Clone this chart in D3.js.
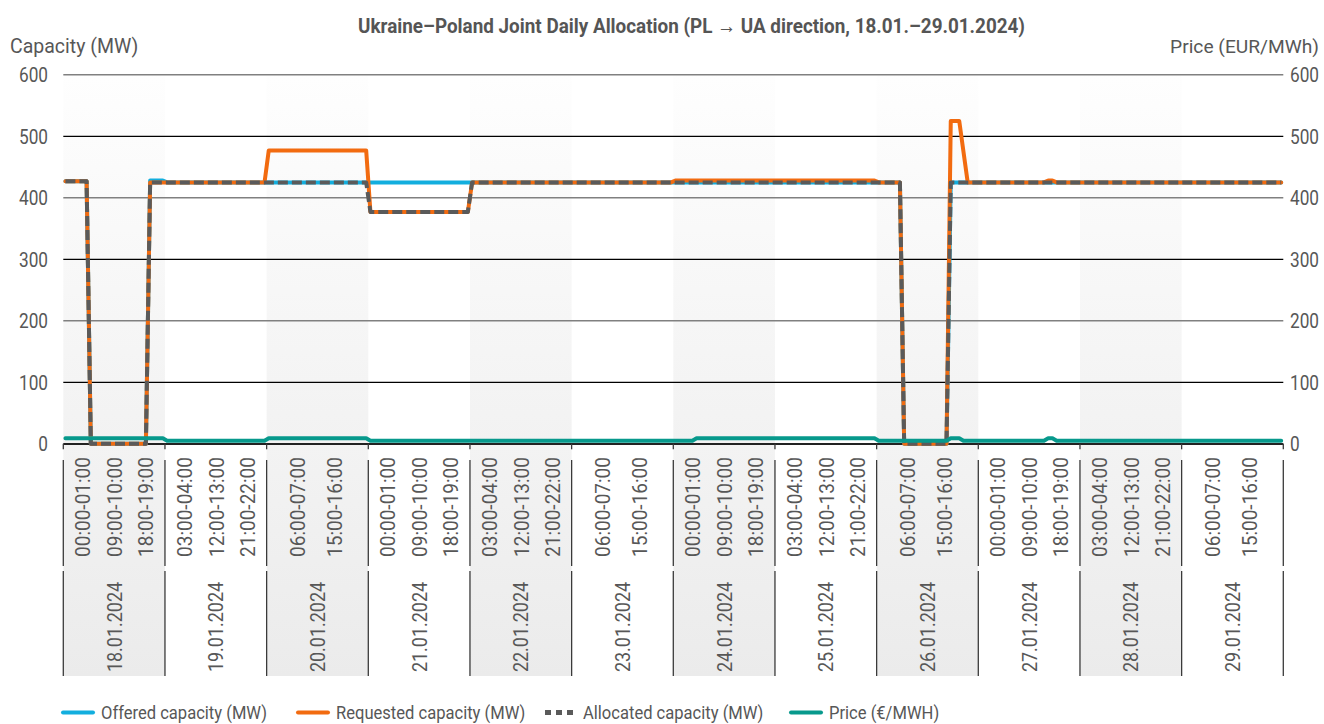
<!DOCTYPE html>
<html>
<head>
<meta charset="utf-8">
<script src="https://cdn.jsdelivr.net/npm/d3@7/dist/d3.min.js"></script>
<style>
  html, body { margin: 0; padding: 0; background: #fff; }
  svg { display: block; font-family: Roboto, "Noto Sans", sans-serif; }
</style>
</head>
<body>
<svg id="chart" width="1324" height="724"></svg>
<script>
// ---------------- DATA ----------------
const days = ["18.01.2024","19.01.2024","20.01.2024","21.01.2024","22.01.2024","23.01.2024",
              "24.01.2024","25.01.2024","26.01.2024","27.01.2024","28.01.2024","29.01.2024"];
const dayHourLabels = [
  ["00:00-01:00","09:00-10:00","18:00-19:00"],
  ["03:00-04:00","12:00-13:00","21:00-22:00"],
  ["06:00-07:00","15:00-16:00"],
  ["00:00-01:00","09:00-10:00","18:00-19:00"],
  ["03:00-04:00","12:00-13:00","21:00-22:00"],
  ["06:00-07:00","15:00-16:00"],
  ["00:00-01:00","09:00-10:00","18:00-19:00"],
  ["03:00-04:00","12:00-13:00","21:00-22:00"],
  ["06:00-07:00","15:00-16:00"],
  ["00:00-01:00","09:00-10:00","18:00-19:00"],
  ["03:00-04:00","12:00-13:00","21:00-22:00"],
  ["06:00-07:00","15:00-16:00"]
];
const hoursPerDay = 24;
const yTicks = [0,100,200,300,400,500,600];

// series as [hour index, value] points where the hourly value changes
const offeredCapacity = [[0,427],[5,427],[6,0],[19,0],[20,428],[23,428],[24,425],[197,425],[198,0],[208,0],[209,425],[287,425]];
const requestedCapacity = [[0,427],[5,427],[6,0],[19,0],[20,425],[47,425],[48,477],[71,477],[72,377],[95,377],[96,425],
  [143,425],[144,428],[191,428],[192,425],[197,425],[198,0],[208,0],[209,525],[211,525],[212,475],[213,425],
  [231,425],[232,428],[233,428],[234,425],[287,425]];
const allocatedCapacity = [[0,427],[5,427],[6,0],[19,0],[20,425],[71,425],[72,377],[95,377],[96,425],[197,425],[198,0],[208,0],[209,425],[287,425]];
const price = [[0,9],[23,9],[24,5],[47,5],[48,9],[71,9],[72,5],[148,5],[149,9],[191,9],[192,5],[208,5],[209,9],[211,9],
  [212,5],[231,5],[232,9],[233,9],[234,5],[287,5]];

const legendItems = ["Offered capacity (MW)","Requested capacity (MW)","Allocated capacity (MW)","Price (€/MWH)"];

// ---------------- LAYOUT / STYLE ----------------
const L = 63.3, R = 1283.3, T = 74.8, B = 443.8;
const colors = { offered: "#12aede", requested: "#f26b10", allocated: "#5a5a5a", price: "#07998c" };
const textColor = "#575757";

const svg = d3.select("#chart");
const defs = svg.append("defs");
const g1 = defs.append("linearGradient").attr("id","plotBand").attr("x1",0).attr("y1",0).attr("x2",0).attr("y2",1);
g1.append("stop").attr("offset","0%").attr("stop-color","#fefefe");
g1.append("stop").attr("offset","100%").attr("stop-color","#f2f2f2");
const g2 = defs.append("linearGradient").attr("id","axisBand").attr("x1",0).attr("y1",0).attr("x2",0).attr("y2",1);
g2.append("stop").attr("offset","0%").attr("stop-color","#f3f3f3");
g2.append("stop").attr("offset","100%").attr("stop-color","#ebebeb");

const totalHours = days.length * hoursPerDay;
const x = d3.scaleLinear().domain([0, totalHours]).range([L, R]);
const xh = h => x(h + 0.5);
const xDay = d3.scaleBand().domain(days).range([L, R]).padding(0);
const y = d3.scaleLinear().domain([0, 600]).range([B, T]);

function condense(sel, k) {
  sel.each(function () {
    const len = this.getComputedTextLength();
    this.setAttribute("textLength", len * k);
    this.setAttribute("lengthAdjust", "spacingAndGlyphs");
  });
}

// plot bands (alternate days)
svg.append("g").selectAll("rect").data(days.filter((d,i)=>i%2===0)).join("rect")
  .attr("x", d => xDay(d)).attr("y", T).attr("width", xDay.bandwidth()).attr("height", B - T)
  .attr("fill", "url(#plotBand)");
// axis label bands
svg.append("g").selectAll("rect").data(days.filter((d,i)=>i%2===0)).join("rect")
  .attr("x", d => xDay(d)).attr("y", B).attr("width", xDay.bandwidth()).attr("height", 676 - B)
  .attr("fill", "url(#axisBand)");

// gridlines
svg.append("g").selectAll("line").data(yTicks.filter(v => v > 0)).join("line")
  .attr("x1", L).attr("x2", R).attr("y1", d => y(d)).attr("y2", d => y(d))
  .attr("stroke", d => (d / 100) % 2 === 0 ? "#808080" : "#000")
  .attr("stroke-width", d => (d / 100) % 2 === 0 ? 1.6 : 1.2);

// left & right tick labels
const leftAxis = svg.append("g").selectAll("text").data(yTicks).join("text")
  .attr("x", 48).attr("y", d => y(d)).attr("dy", "0.355em").attr("text-anchor", "end")
  .attr("font-size", 21).attr("fill", textColor).text(d => d);
condense(leftAxis, 0.82);
const rightAxis = svg.append("g").selectAll("text").data(yTicks).join("text")
  .attr("x", 1290).attr("y", d => y(d)).attr("dy", "0.355em").attr("text-anchor", "start")
  .attr("font-size", 21).attr("fill", textColor).text(d => d);
condense(rightAxis, 0.82);

// axis titles
svg.append("text").attr("x", 10).attr("y", 53).attr("font-size", 19.5).attr("fill", textColor).text("Capacity (MW)");
svg.append("text").attr("x", 1319).attr("y", 53).attr("text-anchor", "end").attr("font-size", 19.2).attr("fill", textColor).text("Price (EUR/MWh)");

// chart title
const title = svg.append("text").attr("x", 691.5).attr("y", 33).attr("text-anchor", "middle")
  .attr("font-size", 21).attr("font-weight", "bold").attr("fill", "#555")
  .text("Ukraine\u2013Poland Joint Daily Allocation (PL \u2192 UA direction, 18.01.\u201329.01.2024)");
title.attr("textLength", 667).attr("lengthAdjust", "spacingAndGlyphs");

// x axis line
svg.append("line").attr("x1", L).attr("x2", R).attr("y1", B + 0.3).attr("y2", B + 0.3)
  .attr("stroke", "#222").attr("stroke-width", 2);

// day separators and ticks
const boundaries = days.map(d => xDay(d)).concat([R]);
const sep = svg.append("g").attr("stroke", "#3a3a3a").attr("stroke-width", 1.3);
boundaries.forEach(bx => {
  sep.append("line").attr("x1", bx).attr("x2", bx).attr("y1", B).attr("y2", B + 5.5);
  sep.append("line").attr("x1", bx).attr("x2", bx).attr("y1", 460).attr("y2", 566);
  sep.append("line").attr("x1", bx).attr("x2", bx).attr("y1", 571).attr("y2", 676);
});

// hour labels per day
days.forEach((d, i) => {
  const labels = dayHourLabels[i];
  const p = d3.scalePoint().domain(labels).range([xDay(d), xDay(d) + xDay.bandwidth()])
    .padding(labels.length === 3 ? 0.61 : 0.87);
  const shift = labels.length === 3 ? 0.3 : -1.5;
  const txt = svg.append("g").selectAll("text").data(labels).join("text")
    .attr("transform", lb => `translate(${p(lb) + shift},507) rotate(-90)`)
    .attr("text-anchor", "middle").attr("dy", "0.355em")
    .attr("font-size", 21).attr("fill", textColor).text(lb => lb);
  condense(txt, 0.905);
});

// date labels
const dl = svg.append("g").selectAll("text").data(days).join("text")
  .attr("transform", d => `translate(${xDay(d) + xDay.bandwidth() / 2},627) rotate(-90)`)
  .attr("text-anchor", "middle").attr("dy", "0.355em")
  .attr("font-size", 21).attr("fill", textColor).text(d => d);
condense(dl, 0.855);

// series
const line = d3.line().x(d => xh(d[0])).y(d => y(d[1]));
svg.append("path").datum(offeredCapacity).attr("d", line).attr("fill", "none")
  .attr("stroke", colors.offered).attr("stroke-width", 4).attr("stroke-linejoin", "round").attr("stroke-linecap", "round");
svg.append("path").datum(requestedCapacity).attr("d", line).attr("fill", "none")
  .attr("stroke", colors.requested).attr("stroke-width", 4).attr("stroke-linejoin", "round").attr("stroke-linecap", "round");
svg.append("path").datum(allocatedCapacity).attr("d", line).attr("fill", "none")
  .attr("stroke", colors.allocated).attr("stroke-width", 4).attr("stroke-linejoin", "round")
  .attr("stroke-dasharray", "10,4");
svg.append("path").datum(price).attr("d", line).attr("fill", "none")
  .attr("stroke", colors.price).attr("stroke-width", 4).attr("stroke-linejoin", "round").attr("stroke-linecap", "round");

// legend
const legendX = [63, 298, 545, 791];
const legendStyles = [
  { c: colors.offered, dash: null },
  { c: colors.requested, dash: null },
  { c: colors.allocated, dash: "6,5" },
  { c: colors.price, dash: null }
];
const lg = svg.append("g");
const legendY = 712.5;
legendItems.forEach((name, i) => {
  const ln = lg.append("line").attr("x1", legendX[i]).attr("x2", legendX[i] + 30).attr("y1", legendY).attr("y2", legendY)
    .attr("stroke", legendStyles[i].c).attr("stroke-width", legendStyles[i].dash ? 5 : 4);
  if (legendStyles[i].dash) ln.attr("stroke-dasharray", legendStyles[i].dash);
  else ln.attr("stroke-linecap", "round");
  const t = lg.append("text").attr("x", legendX[i] + 38).attr("y", legendY).attr("dy", "0.355em")
    .attr("font-size", 18).attr("fill", textColor).text(name);
  condense(t, 0.92);
});
</script>
</body>
</html>
